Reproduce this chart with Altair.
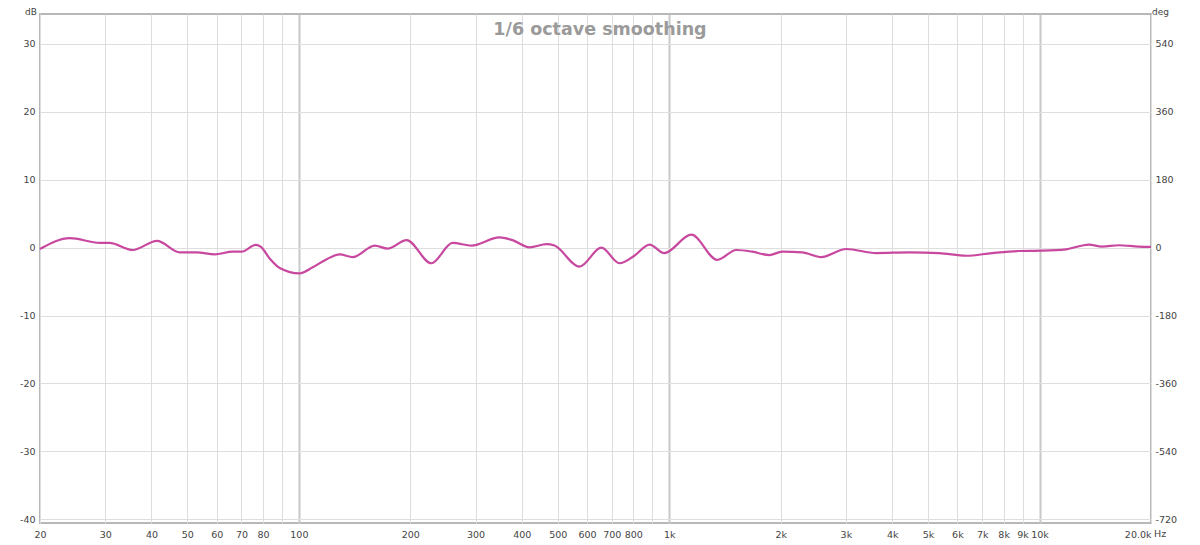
import altair as alt
import pandas as pd

# Frequency response (1/6 octave smoothing)
freq_hz = [20, 24.1, 29, 30.8, 35.6, 41.4, 47.7, 53, 59.3, 66.3, 70, 76.5, 79, 83.4,
           88.8, 100.5, 109, 118.9, 128.9, 139.8, 160.3, 173.7, 195.4, 228, 260,
           292.6, 348, 377.6, 419.6, 466.4, 490, 572.6, 656, 734, 805, 885, 970,
           1148, 1349, 1517, 1676, 1863, 2019, 2287, 2575, 3007, 3622, 4446, 5357,
           6337, 7447, 8800, 10160, 11790, 13600, 14750, 16380, 18500, 20000]
spl_db = [-0.2, 1.4, 0.7, 0.7, -0.35, 1.0, -0.7, -0.7, -1.0, -0.6, -0.6, 0.4, 0.1, -1.6,
          -3.0, -3.8, -2.9, -1.7, -1.0, -1.4, 0.3, -0.15, 1.1, -2.3, 0.7,
          0.3, 1.5, 1.1, 0.05, 0.5, 0.3, -2.8, 0.0, -2.3, -1.2, 0.45, -0.8,
          1.9, -1.8, -0.35, -0.6, -1.1, -0.6, -0.7, -1.4, -0.2, -0.8, -0.7, -0.8,
          -1.2, -0.8, -0.5, -0.45, -0.25, 0.45, 0.15, 0.35, 0.15, 0.1]

x_grid = [20, 30, 40, 50, 60, 70, 80, 90, 100, 200, 300, 400, 500, 600, 700, 800, 900,
          1000, 2000, 3000, 4000, 5000, 6000, 7000, 8000, 9000, 10000, 20000]
db_ticks = [-40, -30, -20, -10, 0, 10, 20, 30]
deg_ticks = [-720, -540, -360, -180, 0, 180, 360, 540]
db_domain = [-40.55, 34.4]
deg_domain = [-729.9, 619.2]

title_text = "1/6 octave smoothing"
left_unit = "dB"
right_unit = "deg"
x_unit = "Hz"

df = pd.DataFrame({"f": freq_hz, "db": spl_db})
deg_df = pd.DataFrame({"deg": deg_ticks})

FONT = "DejaVu Sans"
LABEL_COLOR = "#444444"

x_scale = alt.Scale(type="log", domain=[20, 20000], nice=False)

label_expr = ("datum.value == 90 || datum.value == 900 ? '' : "
              "datum.value >= 20000 ? '20.0k' : "
              "datum.value >= 1000 ? (datum.value / 1000) + 'k' : '' + datum.value")

major_test = "datum.value == 100 || datum.value == 1000 || datum.value == 10000"

x_axis = alt.Axis(
    values=x_grid, labelExpr=label_expr, title=None, ticks=False, domain=False,
    labelFlush=False, labelOverlap=False, labelPadding=6,
    labelAlign={"condition": {"test": "datum.value >= 20000", "value": "right"}, "value": "center"},
    gridColor={"condition": {"test": major_test, "value": "#c8c8c8"}, "value": "#dedede"},
    gridWidth={"condition": {"test": major_test, "value": 2}, "value": 1},
)

line = alt.Chart(df).mark_line(
    color="#c8489f", strokeWidth=2.2, interpolate="monotone"
).encode(
    x=alt.X("f:Q", scale=x_scale, axis=x_axis),
    y=alt.Y("db:Q", scale=alt.Scale(domain=db_domain, nice=False, zero=False),
            axis=alt.Axis(values=db_ticks, title=None, ticks=False, domain=False,
                          labelExpr="'' + datum.value",
                          labelPadding=5, gridColor="#dedede", orient="left")),
)

right_axis = alt.Chart(deg_df).mark_point(opacity=0).encode(
    x=alt.value(0),
    y=alt.Y("deg:Q", scale=alt.Scale(domain=deg_domain, nice=False, zero=False),
            axis=alt.Axis(values=deg_ticks, title=None, ticks=False, domain=False,
                          labelExpr="'' + datum.value",
                          grid=False, labelPadding=4, orient="right")),
)

text_df = pd.DataFrame({"t": [title_text]})
title = alt.Chart(text_df).mark_text(
    font=FONT, fontSize=17.5, fontWeight="bold", color="#9a9a9a",
    align="center", baseline="alphabetic"
).encode(text="t:N", x=alt.value(560), y=alt.value(21))

db_lbl = alt.Chart(pd.DataFrame({"t": [left_unit]})).mark_text(
    font=FONT, fontSize=9, color=LABEL_COLOR, align="left", baseline="top"
).encode(text="t:N", x=alt.value(-15), y=alt.value(-6))

deg_lbl = alt.Chart(pd.DataFrame({"t": [right_unit]})).mark_text(
    font=FONT, fontSize=9, color=LABEL_COLOR, align="left", baseline="top"
).encode(text="t:N", x=alt.value(1112), y=alt.value(-6))

hz_lbl = alt.Chart(pd.DataFrame({"t": [x_unit]})).mark_text(
    font=FONT, fontSize=9.5, color=LABEL_COLOR, align="left", baseline="top"
).encode(text="t:N", x=alt.value(1114), y=alt.value(515))

chart = alt.layer(line, right_axis, title, db_lbl, deg_lbl, hz_lbl).resolve_scale(
    y="independent"
).properties(
    width=1111, height=509,
    autosize=alt.AutoSizeParams(type="none"),
    padding={"left": 32, "top": 6, "right": 40, "bottom": 21},
).configure_view(
    stroke="#b8b8b8", strokeWidth=2
).configure_axis(
    labelFont=FONT, labelFontSize=9.5, labelColor=LABEL_COLOR
)

chart.save("out.html", embed_options={"renderer": "svg", "actions": False})
